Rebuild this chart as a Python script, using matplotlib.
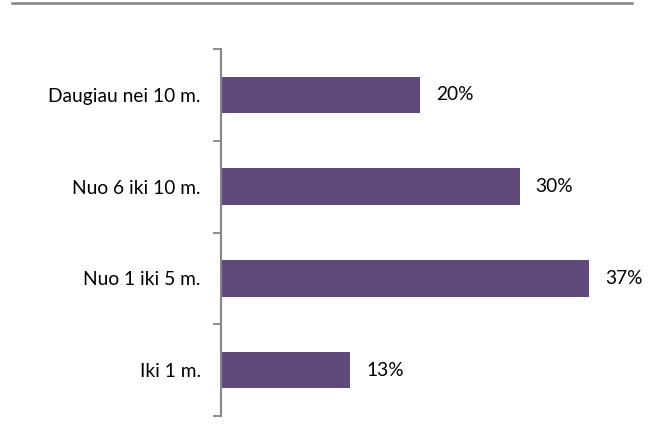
import matplotlib
matplotlib.use("Agg")
import matplotlib.pyplot as plt
from matplotlib.lines import Line2D

categories = ["Iki 1 m.", "Nuo 1 iki 5 m.", "Nuo 6 iki 10 m.", "Daugiau nei 10 m."]
values = [13, 37, 30, 20]
value_labels = ["13%", "37%", "30%", "20%"]

plt.rcParams['font.family'] = ['Lato', 'DejaVu Sans']

W, H = 655, 438
fig = plt.figure(figsize=(W / 100, H / 100), dpi=100)
ax = fig.add_axes([221 / W, 1 - 416 / H, 411 / W, (416 - 49) / H])

bar_color = "#604a7b"
axis_color = "#868686"
fs = 13.8

y = list(range(len(categories)))
ax.barh(y, values, height=0.4, color=bar_color, zorder=2)
ax.set_xlim(0, 411 / 9.95)
ax.set_ylim(-0.5, len(categories) - 0.5)

for yi, v, lab in zip(y, values, value_labels):
    ax.annotate(lab, xy=(v, yi), xytext=(11.5, 0), textcoords="offset points",
                va="center", ha="left", fontsize=fs, color="black")

ax.set_yticks(y)
ax.set_yticklabels(categories, fontsize=fs)
ax.tick_params(axis="y", which="major", length=0, pad=14.5)
ax.set_yticks([i - 0.5 for i in range(len(categories) + 1)], minor=True)
ax.tick_params(axis="y", which="minor", length=6, width=1.3, color=axis_color, direction="out")
ax.set_xticks([])

for s in ["top", "right", "bottom"]:
    ax.spines[s].set_visible(False)
ax.spines["left"].set_color(axis_color)
ax.spines["left"].set_linewidth(1.5)

# top horizontal rule
fig.add_artist(Line2D([12 / W, 632 / W], [1 - 3 / H, 1 - 3 / H], color="#808080",
                      linewidth=1.8, transform=fig.transFigure))

fig.savefig("out.png", dpi=100)
